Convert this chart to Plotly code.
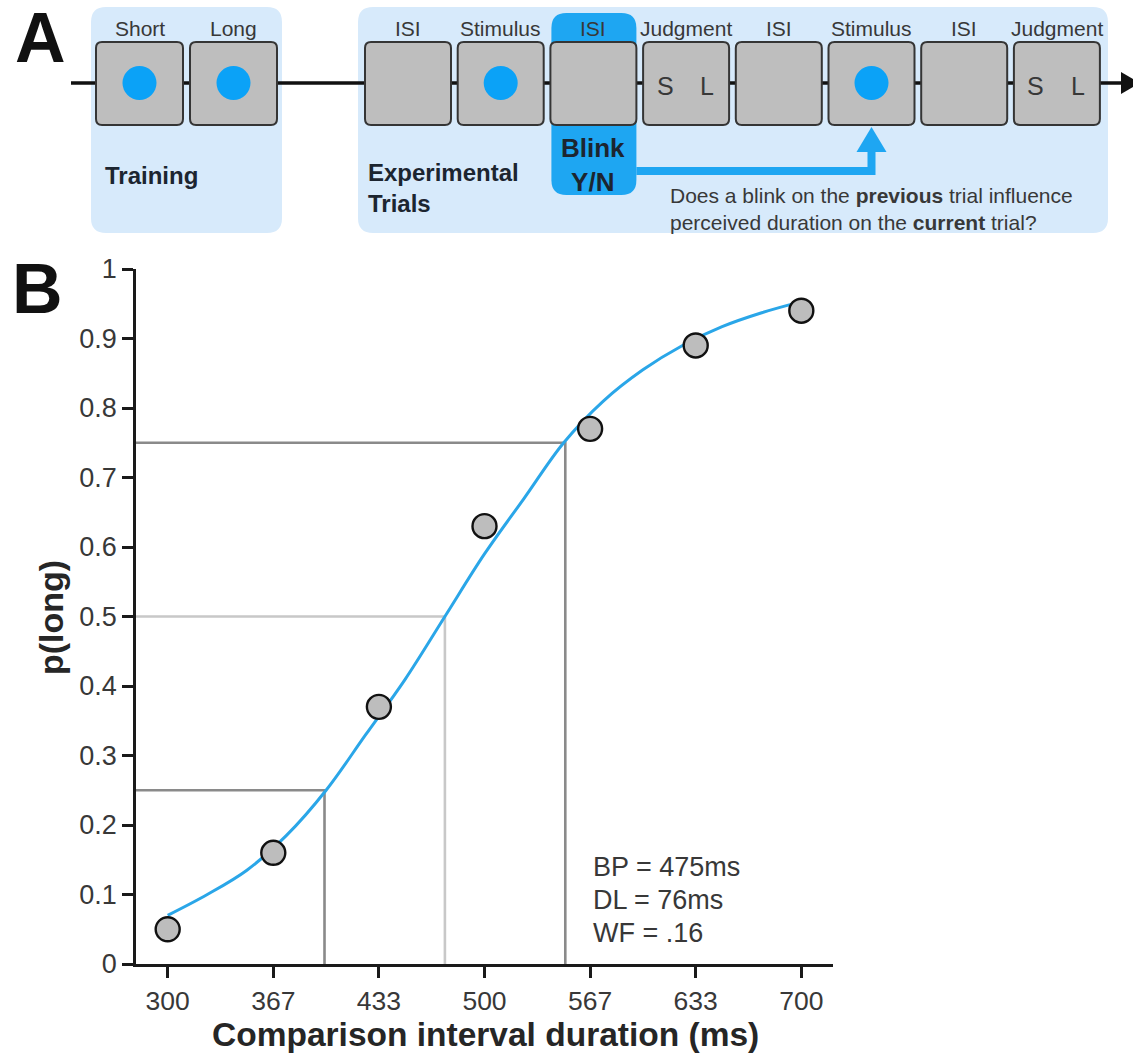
import plotly.graph_objects as go

# ---------------- Panel B data ----------------
durations = [300, 366.67, 433.33, 500, 566.67, 633.33, 700]
duration_labels = ["300", "367", "433", "500", "567", "633", "700"]
p_long = [0.05, 0.16, 0.37, 0.63, 0.77, 0.89, 0.94]

fit_x = [300, 325, 350, 375, 400, 425, 450, 475, 500, 525, 550, 575, 600, 625, 650, 675, 700]
fit_p = [0.07, 0.10, 0.135, 0.185, 0.25, 0.33, 0.41, 0.50, 0.59, 0.67, 0.75, 0.81, 0.855, 0.89, 0.917, 0.937, 0.953]

threshold_p = [0.25, 0.5, 0.75]
threshold_x = [399, 475, 551]
threshold_colors = ["#8a8a8a", "#c8c8c8", "#8a8a8a"]

y_ticks = [0, 0.1, 0.2, 0.3, 0.4, 0.5, 0.6, 0.7, 0.8, 0.9, 1]
y_tick_labels = ["0", "0.1", "0.2", "0.3", "0.4", "0.5", "0.6", "0.7", "0.8", "0.9", "1"]
x_range = [280, 720]
y_range = [0, 1]
stats_lines = ["BP = 475ms", "DL = 76ms", "WF = .16"]

# ---------------- Panel A data ----------------
training_labels = ["Short", "Long"]
trial_labels = ["ISI", "Stimulus", "ISI", "Judgment", "ISI", "Stimulus", "ISI", "Judgment"]
blink_index = 2
target_index = 5

# ---------------- styling / layout constants ----------------
W, H = 1133, 1053
FONT = "Liberation Sans, Arial, Helvetica, sans-serif"
DARK = "#1c2530"
TXT = "#383838"
LIGHT_BLUE = "#d7eafb"
BRIGHT_BLUE = "#1ea6f2"
DOT_BLUE = "#0ba2f7"
CURVE_BLUE = "#2aa6e8"
BOX_FILL = "#bebebe"
BOX_LINE = "#353535"

train_cx = [139.5, 233.5]
exp_cx0, exp_pitch = 408, 92.7
exp_cx = [exp_cx0 + i * exp_pitch for i in range(len(trial_labels))]
BOX_W, BOX_TOP, BOX_BOT = 86, 42, 125
TL_Y = 83

# plot area of panel B in pixels
PX0, PX1 = 136, 833
PY_TOP, PY_BOT = 269, 964


def rrect(x0, y0, x1, y1, r):
    return (f"M {x0 + r},{y0} L {x1 - r},{y0} Q {x1},{y0} {x1},{y0 + r} "
            f"L {x1},{y1 - r} Q {x1},{y1} {x1 - r},{y1} L {x0 + r},{y1} "
            f"Q {x0},{y1} {x0},{y1 - r} L {x0},{y0 + r} Q {x0},{y0} {x0 + r},{y0} Z")


fig = go.Figure()

# ---- Panel B traces ----
for p, x, c in zip(threshold_p, threshold_x, threshold_colors):
    fig.add_trace(go.Scatter(x=[x_range[0], x, x], y=[p, p, y_range[0]], mode="lines",
                             line=dict(color=c, width=2.6), hoverinfo="skip",
                             showlegend=False, cliponaxis=False))

fig.add_trace(go.Scatter(x=fit_x, y=fit_p, mode="lines", line=dict(color=CURVE_BLUE, width=3, shape="spline"),
                         showlegend=False, cliponaxis=False))
fig.add_trace(go.Scatter(x=durations, y=p_long, mode="markers",
                         marker=dict(size=24, color="#bdbdbd", line=dict(color="#111111", width=2.4)),
                         showlegend=False, cliponaxis=False))

# invisible trace for overlay canvas
fig.add_trace(go.Scatter(x=[0], y=[0], xaxis="x2", yaxis="y2", mode="markers",
                         marker=dict(size=1, opacity=0), hoverinfo="skip", showlegend=False))

shapes = []
ann = []


def S(**kw):
    d = dict(xref="x2", yref="y2")
    d.update(kw)
    shapes.append(d)


def A(**kw):
    d = dict(xref="x2", yref="y2", showarrow=False)
    d.update(kw)
    ann.append(d)


# regions
S(type="path", path=rrect(91, 7, 282, 233, 15), fillcolor=LIGHT_BLUE, line=dict(width=0))
S(type="path", path=rrect(358, 7, 1108, 233, 15), fillcolor=LIGHT_BLUE, line=dict(width=0))
bx = exp_cx[blink_index]
S(type="path", path=rrect(bx - 42, 13, bx + 43, 195, 15), fillcolor=BRIGHT_BLUE, line=dict(width=0))

# timeline
S(type="line", x0=71, x1=1124, y0=TL_Y, y1=TL_Y, line=dict(color="#111111", width=3.5))
S(type="path", path=f"M 1121,{TL_Y - 11} L 1140,{TL_Y} L 1121,{TL_Y + 11} Z",
  fillcolor="#111111", line=dict(width=0))

# blink -> target arrow
tx = exp_cx[target_index]
S(type="path", path=f"M {bx + 43},171 L {tx},171 L {tx},150", line=dict(color=BRIGHT_BLUE, width=8),
  fillcolor="rgba(0,0,0,0)")
S(type="path", path=f"M {tx - 15},152 L {tx},127 L {tx + 15},152 Z", fillcolor=BRIGHT_BLUE, line=dict(width=0))


def draw_box(cx, label, kind, w=BOX_W):
    S(type="path", path=rrect(cx - w / 2, BOX_TOP, cx + w / 2, BOX_BOT, 6),
      fillcolor=BOX_FILL, line=dict(color=BOX_LINE, width=2))
    A(x=cx, y=28, text=label, font=dict(family=FONT, size=21, color=TXT), xanchor="center", yanchor="middle")
    if kind == "dot":
        S(type="circle", x0=cx - 17, x1=cx + 17, y0=TL_Y - 17, y1=TL_Y + 17,
          fillcolor=DOT_BLUE, line=dict(width=0))
    elif kind == "judge":
        A(x=cx - 21, y=86, text="S", font=dict(family=FONT, size=25, color=TXT), xanchor="center", yanchor="middle")
        A(x=cx + 21, y=86, text="L", font=dict(family=FONT, size=25, color=TXT), xanchor="center", yanchor="middle")


for cx, lab in zip(train_cx, training_labels):
    draw_box(cx, lab, "dot", w=87)
for cx, lab in zip(exp_cx, trial_labels):
    kind = "dot" if lab == "Stimulus" else ("judge" if lab == "Judgment" else None)
    draw_box(cx, lab, kind)

A(x=103, y=175, text="<b>Training</b>", font=dict(family=FONT, size=24, color=DARK), xanchor="left", yanchor="middle")
A(x=366, y=188, text="<b>Experimental<br>Trials</b>", font=dict(family=FONT, size=24, color=DARK),
  xanchor="left", yanchor="middle", align="left")
A(x=bx, y=165, text="<b>Blink<br>Y/N</b>", font=dict(family=FONT, size=26, color=DARK),
  xanchor="center", yanchor="middle", align="center")
A(x=668, y=209, text="Does a blink on the <b>previous</b> trial influence<br>perceived duration on the <b>current</b> trial?",
  font=dict(family=FONT, size=21, color=TXT), xanchor="left", yanchor="middle", align="left")

# panel letters
A(x=40, y=38, text="<b>A</b>", font=dict(family=FONT, size=70, color="#111111"), xanchor="center", yanchor="middle")
A(x=37, y=289, text="<b>B</b>", font=dict(family=FONT, size=70, color="#111111"), xanchor="center", yanchor="middle")

# panel B text
for i, line in enumerate(stats_lines):
    A(x=591, y=867 + 33 * i, text=line, font=dict(family=FONT, size=27, color=TXT), xanchor="left", yanchor="middle")
A(x=485, y=1034, text="<b>Comparison interval duration (ms)</b>", font=dict(family=FONT, size=33.5, color="#262626"),
  xanchor="center", yanchor="middle")
A(x=51, y=618, text="<b>p(long)</b>", textangle=-90, font=dict(family=FONT, size=34, color="#262626"),
  xanchor="center", yanchor="middle")

fig.update_layout(
    width=W, height=H, margin=dict(l=0, r=0, t=0, b=0),
    paper_bgcolor="white", plot_bgcolor="rgba(0,0,0,0)", template="none",
    showlegend=False,
    xaxis=dict(domain=[PX0 / W, PX1 / W], range=x_range, tickvals=durations, ticktext=duration_labels,
               ticks="outside", ticklen=11, tickwidth=2.5, tickcolor="#1a1a1a",
               showline=True, linecolor="#1a1a1a", linewidth=2.5, showgrid=False, zeroline=False,
               tickfont=dict(family=FONT, size=26.5, color=TXT), anchor="y", fixedrange=True),
    yaxis=dict(domain=[(H - PY_BOT) / H, (H - PY_TOP) / H], range=y_range, tickvals=y_ticks, ticktext=y_tick_labels,
               ticks="outside", ticklen=11, tickwidth=2.5, tickcolor="#1a1a1a",
               showline=True, linecolor="#1a1a1a", linewidth=2.5, showgrid=False, zeroline=False,
               tickfont=dict(family=FONT, size=27, color=TXT), anchor="x", fixedrange=True),
    xaxis2=dict(domain=[0, 1], range=[0, W], visible=False, anchor="y2", fixedrange=True),
    yaxis2=dict(domain=[0, 1], range=[H, 0], visible=False, anchor="x2", fixedrange=True),
    shapes=shapes, annotations=ann,
)

fig.write_html("out.html", config={"displayModeBar": False},
               post_script="document.body.style.margin='0';document.body.style.overflow='hidden';")
